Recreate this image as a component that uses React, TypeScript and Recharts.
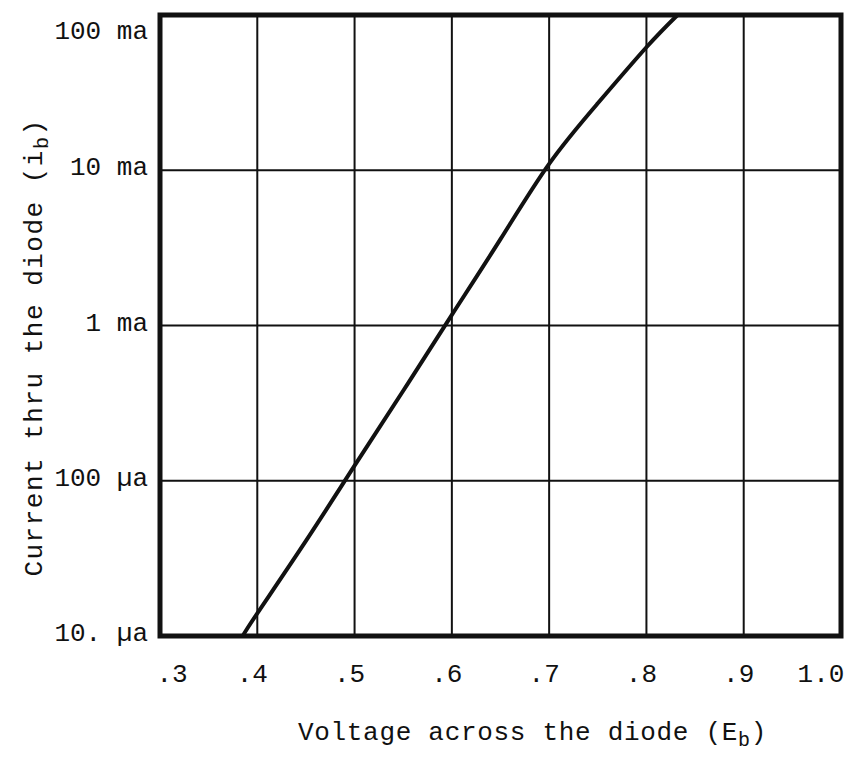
import { LineChart, Line, XAxis, YAxis, CartesianGrid, ReferenceArea, Label } from 'recharts'

// voltage across the diode (volts)
const voltage = [0.385, 0.4, 0.45, 0.5, 0.55, 0.6, 0.65, 0.7, 0.75, 0.8, 0.832]
// current thru the diode (ma)
const current = [0.01, 0.014, 0.041, 0.125, 0.38, 1.17, 3.6, 11, 27, 62, 100]

const xTicks = [0.3, 0.4, 0.5, 0.6, 0.7, 0.8, 0.9, 1.0]
const xTickLabels = ['.3', '.4', '.5', '.6', '.7', '.8', '.9', '1.0']
const yTicks = [0.01, 0.1, 1, 10, 100]
const yTickLabels = ['10. \u00b5a', '100 \u00b5a', '1 ma', '10 ma', '100 ma']

const data = voltage.map((v, i) => ({ v, i: current[i] }))

const FONT = '"Liberation Mono", "DejaVu Sans Mono", monospace'
const INK = '#111'

function XTick(props: any) {
  const { x, y, index } = props
  const dx = index === 0 ? 12 : index === xTicks.length - 1 ? -20 : -5
  return (
    <text x={x + dx} y={y + 38} textAnchor="middle" fontFamily={FONT} fontSize={26} fill={INK}>
      {xTickLabels[index]}
    </text>
  )
}

function YTick(props: any) {
  const { x, y, index } = props
  const dy = index === yTicks.length - 1 ? 24 : 5
  return (
    <text x={x - 4} y={y + dy} textAnchor="end" fontFamily={FONT} fontSize={26} fill={INK}>
      {yTickLabels[index]}
    </text>
  )
}

function XTitle(props: any) {
  const vb = props.viewBox
  const cx = vb.x + vb.width / 2 + 32
  return (
    <text
      x={cx}
      y={vb.y + vb.height - 12}
      textAnchor="middle"
      fontFamily={FONT}
      fontSize={26}
      letterSpacing={0.7}
      fill={INK}
    >
      Voltage across the diode (E
      <tspan fontSize={20} dy={6}>b</tspan>
      <tspan dy={-6}>)</tspan>
    </text>
  )
}

function YTitle(props: any) {
  const vb = props.viewBox
  const cx = vb.x + 27
  const cy = vb.y + vb.height / 2 + 22
  return (
    <text
      x={cx}
      y={cy}
      transform={`rotate(-90 ${cx} ${cy})`}
      textAnchor="middle"
      dominantBaseline="central"
      fontFamily={FONT}
      fontSize={26}
      letterSpacing={1.5}
      fill={INK}
    >
      Current thru the diode (i
      <tspan fontSize={20} dy={7}>b</tspan>
      <tspan dy={-7}>)</tspan>
    </text>
  )
}

export default function App() {
  return (
    <div style={{ width: 846, height: 744, background: '#fff' }}>
      <LineChart width={846} height={744} data={data} margin={{ top: 7, right: 13, bottom: 0, left: 0 }}>
        <CartesianGrid stroke={INK} strokeWidth={2} />
        <XAxis
          dataKey="v"
          type="number"
          domain={[0.3, 1.0]}
          ticks={xTicks}
          allowDataOverflow
          height={116}
          axisLine={false}
          tickLine={false}
          tick={<XTick />}
          interval={0}
        >
          <Label content={<XTitle />} />
        </XAxis>
        <YAxis
          dataKey="i"
          scale="log"
          domain={[0.01, 100]}
          ticks={yTicks}
          allowDataOverflow
          width={152}
          axisLine={false}
          tickLine={false}
          tick={<YTick />}
          interval={0}
        >
          <Label content={<YTitle />} />
        </YAxis>
        <ReferenceArea x1={0.3} x2={1.0} y1={0.01} y2={100} fill="none" stroke={INK} strokeWidth={5} />
        <Line
          type="natural"
          dataKey="i"
          stroke={INK}
          strokeWidth={4}
          dot={false}
          isAnimationActive={false}
        />
      </LineChart>
    </div>
  )
}
